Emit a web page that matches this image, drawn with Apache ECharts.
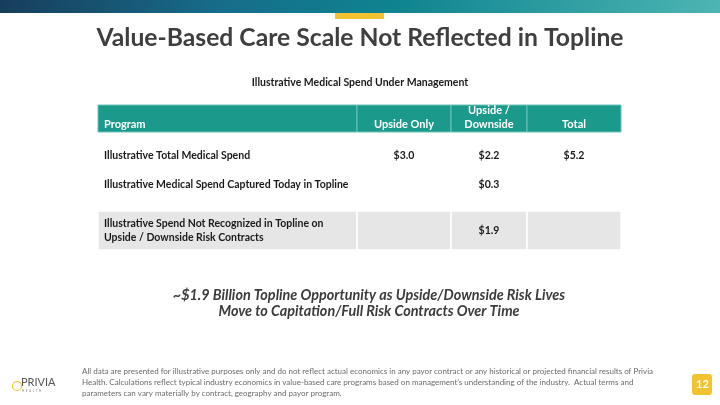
<!DOCTYPE html>
<html><head><meta charset="utf-8">
<script src="https://cdn.jsdelivr.net/npm/echarts@6/dist/echarts.min.js"></script>
<style>html,body{margin:0;padding:0;background:#fff}#c{width:720px;height:405px}</style>
</head><body><div id="c"></div>
<script>
// ---- data ----
const columns = ['Program', 'Upside Only', 'Upside /\nDownside', 'Total'];
const programs = [
  'Illustrative Total Medical Spend',
  'Illustrative Medical Spend Captured Today in Topline',
  'Illustrative Spend Not Recognized in Topline on\nUpside / Downside Risk Contracts'
];
const upsideOnly = [3.0, null, null];
const upsideDownside = [2.2, 0.3, 1.9];
const total = [5.2, null, null];
const tableTitle = 'Illustrative Medical Spend Under Management';
const chartTitle = 'Value-Based Care Scale Not Reflected in Topline';
const callout = '~$1.9 Billion Topline Opportunity as Upside/Downside Risk Lives\nMove to Capitation/Full Risk Contracts Over Time';
const footnote = 'All data are presented for illustrative purposes only and do not reflect actual economics in any payor contract or any historical or projected financial results of Privia\nHealth. Calculations reflect typical industry economics in value-based care programs based on management\u2019s understanding of the industry.  Actual terms and\nparameters can vary materially by contract, geography and payor program.';
const pageNum = '12';

// ---- layout (axis units) ----
const colEdges = [0, 259, 353, 429, 523];
const rowBands = [[0, 27], [33, 69], [62, 98], [106, 145]];

const fmt = v => v == null ? '' : '$' + v.toFixed(1);
const cells = [];
columns.forEach((c, i) => cells.push({col: i, row: 0, text: c}));
programs.forEach((p, r) => {
  cells.push({col: 0, row: r + 1, text: p});
  cells.push({col: 1, row: r + 1, text: fmt(upsideOnly[r])});
  cells.push({col: 2, row: r + 1, text: fmt(upsideDownside[r])});
  cells.push({col: 3, row: r + 1, text: fmt(total[r])});
});

const TF = 'Lato, "Open Sans", sans-serif';

function renderItem(params, api) {
  const c = cells[params.dataIndex];
  const band = rowBands[c.row];
  const p0 = api.coord([colEdges[c.col], band[0]]);
  const p1 = api.coord([colEdges[c.col + 1], band[1]]);
  const x = p0[0], y = p0[1], w = p1[0] - p0[0], h = p1[1] - p0[1];
  const isHead = c.row === 0;
  const isGray = c.row === 3;
  const children = [];
  if (isHead || isGray) {
    children.push({type: 'rect', shape: {x, y, width: w, height: h},
      style: {fill: isHead ? '#1b9a8b' : '#e6e6e6', stroke: isHead ? '#6cc3b8' : '#ffffff', lineWidth: isHead ? 1 : 1.5}});
  }
  children.push({type: 'text', style: {
    text: c.text,
    x: c.col === 0 ? x + 6 : x + w / 2,
    y: isHead ? y + h - 1 : y + h / 2,
    align: c.col === 0 ? 'left' : 'center',
    verticalAlign: isHead ? 'bottom' : 'middle',
    fontFamily: TF, fontWeight: 'bold', fontSize: isHead ? 11 : 10.5, lineHeight: 14,
    fill: isHead ? '#ffffff' : '#1a1a1a'
  }});
  return {type: 'group', children};
}

const chart = echarts.init(document.getElementById('c'), null, {renderer: 'canvas'});
chart.setOption({
  animation: false,
  grid: {left: 98, right: 99, top: 105, bottom: 155},
  xAxis: {type: 'value', min: 0, max: 523, show: false},
  yAxis: {type: 'value', min: 0, max: 145, inverse: true, show: false},
  series: [{
    type: 'custom', renderItem, clip: false,
    data: cells.map(c => [c.col, c.row])
  }],
  graphic: [
    {type: 'rect', left: 0, top: 0, shape: {width: 720, height: 13},
      style: {fill: new echarts.graphic.LinearGradient(0, 0, 1, 0, [
        {offset: 0, color: '#163e5c'}, {offset: 0.3, color: '#176c8a'},
        {offset: 0.55, color: '#0e8490'}, {offset: 1, color: '#4db5b3'}])}},
    {type: 'rect', left: 335, top: 13, shape: {width: 49, height: 6}, style: {fill: '#f2c230'}},
    {type: 'text', x: 360, y: 38, style: {text: chartTitle, font: 'bold 24.7px ' + TF, fill: '#3f3f3f', align: 'center', verticalAlign: 'middle'}},
    {type: 'text', left: 'center', top: 77, style: {text: tableTitle, font: 'bold 10.5px ' + TF, fill: '#1a1a1a'}},
    {type: 'text', x: 369, y: 303, style: {text: callout, font: 'italic bold 14.4px ' + TF, fill: '#3b3b3b', align: 'center', verticalAlign: 'middle', lineHeight: 16}},
    {type: 'text', left: 82, top: 366, style: {text: footnote, font: '8px ' + TF, fill: '#6a6a6a', lineHeight: 11}},
    {type: 'circle', left: 10, top: 379, shape: {r: 4.5}, style: {fill: 'none', stroke: '#f2c230', lineWidth: 1.2}},
    {type: 'text', left: 21, top: 377, style: {text: 'PRIVIA', font: '11px ' + TF, fill: '#555'}},
    {type: 'text', left: 22, top: 390, style: {text: 'H  E  A  L  T  H', font: '3px ' + TF, fill: '#888'}},
    {type: 'rect', left: 692, top: 374, shape: {width: 20, height: 21, r: 3}, style: {fill: '#f2c230'}},
    {type: 'text', left: 696, top: 379, style: {text: pageNum, font: 'bold 11px ' + TF, fill: '#ffffff'}}
  ]
});
</script></body></html>
